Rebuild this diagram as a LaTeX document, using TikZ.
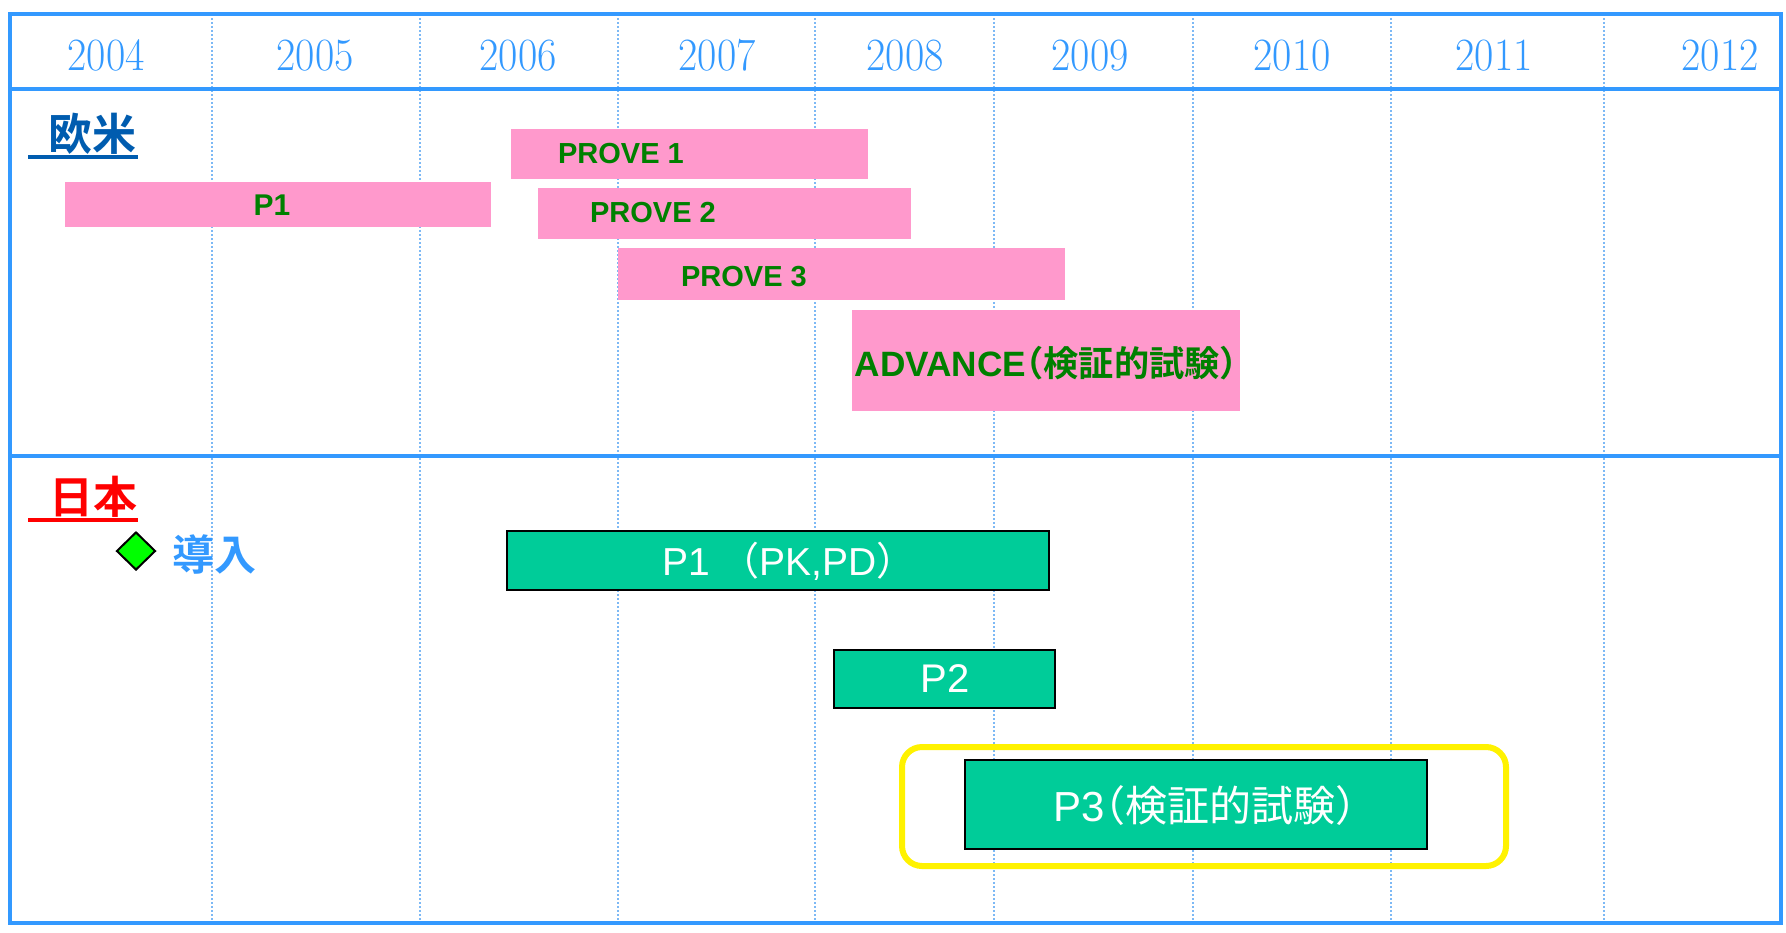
\documentclass[tikz,border=0pt]{standalone}
\usepackage{fontspec}
\newfontfamily\sansfont{Liberation Sans}
\newfontfamily\jpfont[BoldFont={Noto Sans CJK JP Bold}]{Noto Sans CJK JP}
\newfontfamily\jphalt[RawFeature=+halt,BoldFont={Noto Sans CJK JP Bold}]{Noto Sans CJK JP}
\newcommand{\jtext}[1]{{\jpfont #1}}
\newcommand{\jparen}[1]{{\jphalt #1}}
\usetikzlibrary{shapes.geometric}
\definecolor{frameblue}{HTML}{3399FF}
\definecolor{gridblue}{HTML}{7DB9F5}
\definecolor{barpink}{HTML}{FF99CC}
\definecolor{bargreen}{HTML}{00CC99}
\definecolor{textgreen}{HTML}{008000}
\definecolor{eunavy}{HTML}{005CAF}
\tikzset{
  frameline/.style={frameblue, line width=2.4pt},
  gridline/.style={gridblue, line width=0.6pt, dash pattern=on 0.9pt off 1.1pt},
  yearlabel/.style={frameblue, anchor=base, inner sep=0, yscale=1.1, font=\fontsize{21}{24}\selectfont},
  pinkbar/.style={fill=barpink},
  pinklabel/.style={textgreen, inner sep=0, font=\sansfont\bfseries\fontsize{14.5}{16}\selectfont},
  greenbar/.style={fill=bargreen, draw=black, line width=1.2pt},
  greenlabel/.style={white, inner sep=0, font=\sansfont\fontsize{20}{22}\selectfont},
  regionlabel/.style={inner sep=0, font=\jpfont\bfseries\fontsize{22}{24}\selectfont},
}

\begin{document}
\begin{tikzpicture}[x=0.5pt, y=-0.5pt]
   \useasboundingbox (0,0) rectangle (1786,932);
   \foreach \xv in {212,420,618,815,994,1193,1391,1604}
      \draw[gridline] (\xv,14) -- (\xv,922);
   \draw[frameline] (10,14) rectangle (1781,923);
   \draw[frameline] (10,89) -- (1781,89);
   \draw[frameline] (10,456) -- (1781,456);
   \foreach \yr/\xc in {2004/106,2005/315,2006/518,2007/717,2008/905,2009/1090,2010/1292,2011/1494,2012/1720}
      \node (y\yr) [yearlabel] at (\xc,70) {\yr};

   \node (eu) [regionlabel, eunavy] at (92,134) {欧米};
   \draw[eunavy, line width=1.75pt] (28,157) -- (138,157);
   \node (jp) [regionlabel, red] at (93,497) {日本};
   \draw[red, line width=1.75pt] (28,520) -- (138,520);
   \node (intro) [diamond, aspect=1, inner sep=0, minimum width=19.5pt, minimum height=19pt,
      fill=green, draw=black, line width=1pt] at (136,551) {};
   \node (introtext) [frameblue, inner sep=0, font=\jpfont\bfseries\fontsize{21}{24}\selectfont] at (214,554) {導入};

   \path[pinkbar] (511,129) rectangle (868,179);
   \path[pinkbar] (65,182) rectangle (491,227);
   \path[pinkbar] (538,188) rectangle (911,239);
   \path[pinkbar] (618,248) rectangle (1065,300);
   \path[pinkbar] (852,310) rectangle (1240,411);
   \node (prove1) [pinklabel] at (621,154) {PROVE 1};
   \node (eup1) [pinklabel, font=\sansfont\bfseries\fontsize{15}{17}\selectfont] at (272,205) {P1};
   \node (prove2) [pinklabel] at (653,213) {PROVE 2};
   \node (prove3) [pinklabel] at (744,277) {PROVE 3};
   \node (advance) [pinklabel, font=\sansfont\bfseries\fontsize{17.6}{20}\selectfont] at (1046,363)
      {ADVANCE\jparen{（}\jtext{検証的試験}\jparen{）}};

   \draw[yellow, line width=3pt, rounded corners=10pt] (902,747) rectangle (1506,866);
   \draw[greenbar] (507,531) rectangle (1049,590);
   \draw[greenbar] (834,650) rectangle (1055,708);
   \draw[greenbar] (965,760) rectangle (1427,849);
   \node (jpp1) [greenlabel, font=\sansfont\fontsize{19.5}{22}\selectfont] at (789,561) {P1 \jtext{（}PK,PD\jtext{）}};
   \node (jpp2) [greenlabel] at (945,679) {P2};
   \node (jpp3) [greenlabel, font=\sansfont\fontsize{21}{24}\selectfont] at (1205,806)
      {P3\jparen{（}\jtext{検証的試験}\jparen{）}};
\end{tikzpicture}
\end{document}
